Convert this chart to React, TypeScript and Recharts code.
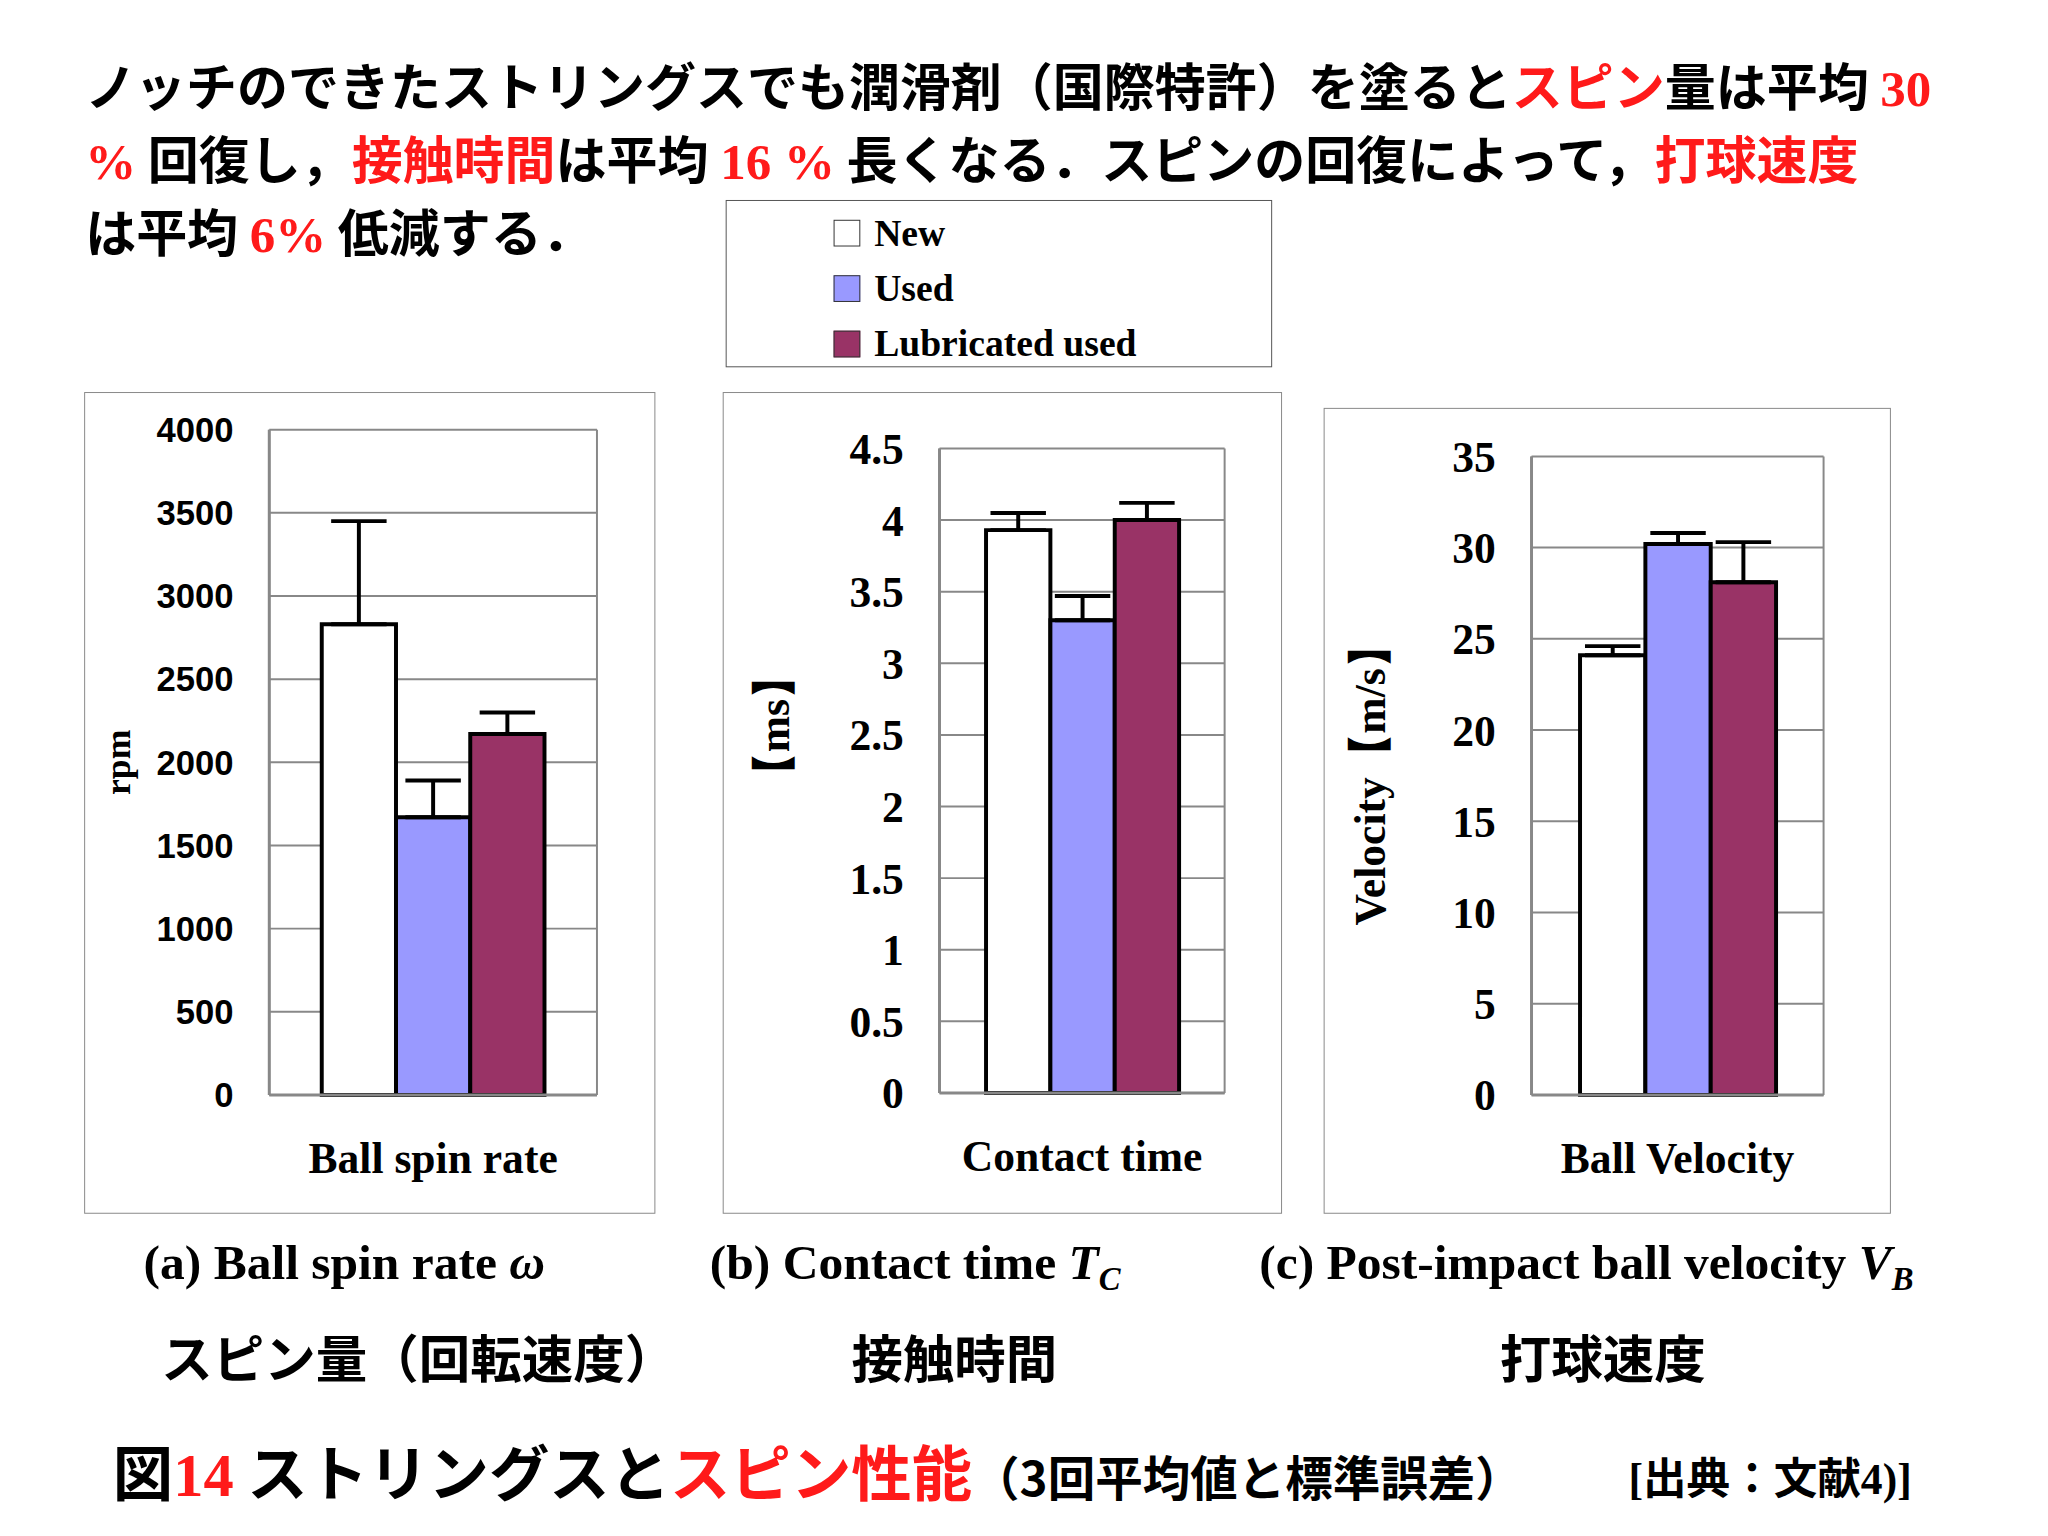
import { Bar, BarChart, CartesianGrid, ErrorBar, XAxis, YAxis } from "recharts";

const seriesNames = ["New", "Used", "Lubricated used"];
const seriesColors = ["#ffffff", "#9999ff", "#993366"];

const spinCategory = ["Ball spin rate"];
const spinMean = [2830, 1670, 2170];
const spinErr = [620, 220, 130];
const spinTicks = [0, 500, 1000, 1500, 2000, 2500, 3000, 3500, 4000];

const contactCategory = ["Contact time"];
const contactMean = [3.93, 3.3, 4.0];
const contactErr = [0.12, 0.17, 0.12];
const contactTicks = [0, 0.5, 1, 1.5, 2, 2.5, 3, 3.5, 4, 4.5];

const velCategory = ["Ball Velocity"];
const velMean = [24.1, 30.2, 28.1];
const velErr = [0.5, 0.6, 2.2];
const velTicks = [0, 5, 10, 15, 20, 25, 30, 35];

const serif = "'Liberation Serif', 'Times New Roman', serif";
const sans = "'Liberation Sans', Arial, sans-serif";
const jp = "'Noto Sans CJK JP', sans-serif";
const RED = "#ff1a1a";

type PanelProps = {
  category: string[];
  mean: number[];
  err: number[];
  ticks: number[];
  frame: { left: number; top: number; width: number; height: number };
  plot: { top: number; right: number; left: number; xh: number };
  barSize: number;
  tickFont: string;
  tickSize: number;
};

function Panel({ category, mean, err, ticks, frame, plot, barSize, tickFont, tickSize }: PanelProps) {
  const row: Record<string, any> = { name: category[0] };
  mean.forEach((v, i) => {
    row["s" + i] = v;
    row["e" + i] = [0, err[i]];
  });
  const yw = 150;
  const gray = { stroke: "#888", strokeWidth: 3 };
  return (
    <div
      style={{
        position: "absolute",
        left: frame.left,
        top: frame.top,
        width: frame.width,
        height: frame.height,
        border: "1.5px solid #888",
        boxSizing: "border-box",
        background: "#fff",
      }}
    >
      <BarChart
        width={frame.width - 3}
        height={frame.height - 3}
        data={[row]}
        margin={{ top: plot.top, right: plot.right, left: plot.left - yw, bottom: 0 }}
        barGap={0}
      >
        <CartesianGrid
          stroke="#888"
          strokeWidth={2}
          verticalCoordinatesGenerator={({ offset }: any) => [offset.left, offset.left + offset.width]}
        />
        <XAxis
          dataKey="name"
          height={plot.xh}
          axisLine={gray}
          tickLine={false}
          tickMargin={42}
          tick={{ fill: "#000", fontFamily: serif, fontWeight: 700, fontSize: 44 }}
        />
        <YAxis
          width={yw}
          domain={[ticks[0], ticks[ticks.length - 1]]}
          ticks={ticks}
          axisLine={gray}
          tickLine={false}
          tickMargin={30}
          interval={0}
          tick={{ fill: "#000", fontFamily: tickFont, fontWeight: 700, fontSize: tickSize }}
        />
        {mean.map((_, i) => (
          <Bar
            key={i}
            dataKey={"s" + i}
            fill={seriesColors[i]}
            stroke="#000"
            strokeWidth={4}
            barSize={barSize}
            isAnimationActive={false}
          >
            <ErrorBar dataKey={"e" + i} width={28} stroke="#000" strokeWidth={4} direction="y" />
          </Bar>
        ))}
      </BarChart>
    </div>
  );
}

function VLabel({ text, x, y, size }: { text: string; x: number; y: number; size: number }) {
  return (
    <div
      style={{
        position: "absolute",
        left: x,
        top: y,
        transform: "translate(-50%, -50%) rotate(-90deg)",
        whiteSpace: "nowrap",
        fontFamily: serif,
        fontWeight: 700,
        fontSize: size,
      }}
    >
      {text}
    </div>
  );
}

const R = ({ children, f }: { children: any; f?: string }) => (
  <span style={{ color: RED, fontFamily: f }}>{children}</span>
);

export default function App() {
  const t = { position: "absolute" as const, whiteSpace: "nowrap" as const };
  return (
    <div style={{ width: 2048, height: 1536, overflow: "hidden", margin: -8, background: "#fff" }}>
      <div
        style={{
          position: "relative",
          width: 2048,
          height: 1536,
          fontFamily: jp,
          fontWeight: 700,
          transform: "scale(0.99)",
          transformOrigin: "0 0",
        }}
      >
        <div style={{ ...t, left: 86, top: 50, fontSize: 51.5, lineHeight: "69px" }}>
          ノッチのできたストリングスでも潤滑剤（国際特許）を塗ると<R>スピン</R>量は平均 <R f={serif}>30</R>
          <br />
          <R f={serif}>%</R> 回復し，<R>接触時間</R>は平均 <R f={serif}>16 %</R> 長くなる．スピンの回復によって，<R>打球速度</R>
          <br />
          は平均 <R f={serif}>6%</R> 低減する．
        </div>

        <div style={{ position: "absolute", left: 733, top: 202, width: 552, height: 169, border: "1.5px solid #555", boxSizing: "border-box" }}>
          {seriesNames.map((n, i) => (
            <div key={n} style={{ position: "absolute", left: 108, top: 10 + i * 56, display: "flex", alignItems: "center", fontFamily: serif, fontSize: 38 }}>
              <span style={{ width: 25, height: 25, background: seriesColors[i], border: "1.5px solid #333", marginRight: 14, display: "inline-block" }} />
              {n}
            </div>
          ))}
        </div>

        <Panel
          category={spinCategory}
          mean={spinMean}
          err={spinErr}
          ticks={spinTicks}
          frame={{ left: 85, top: 396, width: 577, height: 830 }}
          plot={{ top: 37, right: 57, left: 186, xh: 118 }}
          barSize={75}
          tickFont={sans}
          tickSize={35}
        />
        <VLabel text="rpm" x={119} y={770} size={36} />

        <Panel
          category={contactCategory}
          mean={contactMean}
          err={contactErr}
          ticks={contactTicks}
          frame={{ left: 730, top: 396, width: 565, height: 830 }}
          plot={{ top: 56, right: 56, left: 218, xh: 120 }}
          barSize={65}
          tickFont={serif}
          tickSize={44}
        />
        <VLabel text="【ms】" x={782} y={733} size={44} />

        <Panel
          category={velCategory}
          mean={velMean}
          err={velErr}
          ticks={velTicks}
          frame={{ left: 1337, top: 412, width: 573, height: 814 }}
          plot={{ top: 48, right: 66, left: 209, xh: 118 }}
          barSize={66}
          tickFont={serif}
          tickSize={44}
        />
        <VLabel text="Velocity【m/s】" x={1384} y={783} size={44} />

        <div style={{ ...t, left: 145, top: 1246, fontFamily: serif, fontSize: 50 }}>
          (a) Ball spin rate <i>ω</i>
        </div>
        <div style={{ ...t, left: 717, top: 1246, fontFamily: serif, fontSize: 50 }}>
          (b) Contact time <i>T</i><sub style={{ fontSize: 33 }}><i>C</i></sub>
        </div>
        <div style={{ ...t, left: 1272, top: 1246, fontFamily: serif, fontSize: 50 }}>
          (c) Post-impact ball velocity <i>V</i><sub style={{ fontSize: 33 }}><i>B</i></sub>
        </div>

        <div style={{ ...t, left: 163, top: 1332, fontSize: 52 }}>スピン量（回転速度）</div>
        <div style={{ ...t, left: 860, top: 1332, fontSize: 52 }}>接触時間</div>
        <div style={{ ...t, left: 1515, top: 1332, fontSize: 52 }}>打球速度</div>

        <div style={{ ...t, left: 114, top: 1440, fontSize: 61 }}>
          図<R f={serif}>14</R> ストリングスと<R>スピン性能</R>
          <span style={{ fontSize: 48 }}>（3回平均値と標準誤差）</span>
        </div>
        <div style={{ ...t, left: 1645, top: 1458, fontSize: 44, fontFamily: serif }}>
          [<span style={{ fontFamily: jp }}>出典：文献</span>4)]
        </div>
      </div>
    </div>
  );
}
